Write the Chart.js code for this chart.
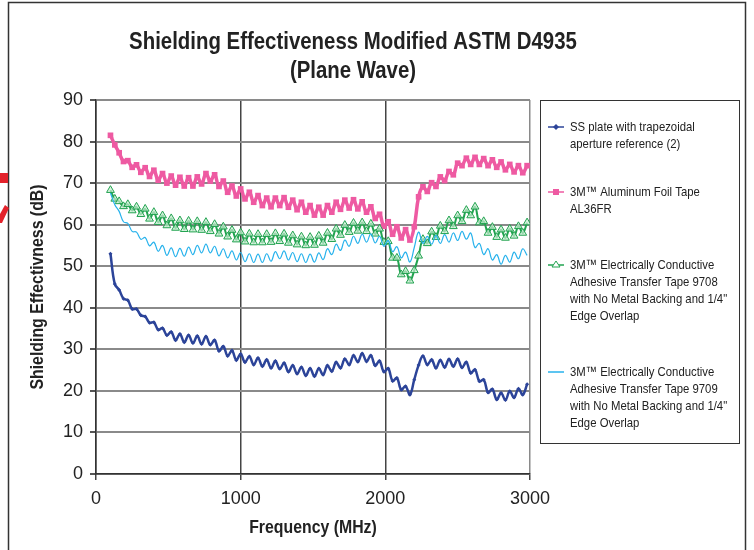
<!DOCTYPE html>
<html>
<head>
<meta charset="utf-8">
<script src="https://cdn.jsdelivr.net/npm/chart.js@4/dist/chart.umd.min.js"></script>
<style>
  body { margin: 0; background: #fff; }
  #wrap { width: 754px; height: 550px; }
</style>
</head>
<body>
<div id="wrap"><canvas id="seChart" width="754" height="550"></canvas></div>
<script>
// Frequencies (MHz)
const freqs = [100,130,160,190,220,250,280,310,340,370,
  400,430,460,490,520,550,580,610,640,670,
  700,730,760,790,820,850,880,910,940,970,
  1000,1030,1060,1090,1120,1150,1180,1210,1240,1270,
  1300,1330,1360,1390,1420,1450,1480,1510,1540,1570,
  1600,1630,1660,1690,1720,1750,1780,1810,1840,1870,
  1900,1930,1960,1990,2020,2050,2080,2110,2140,2170,
  2200,2230,2260,2290,2320,2350,2380,2410,2440,2470,
  2500,2530,2560,2590,2620,2650,2680,2710,2740,2770,
  2800,2830,2860,2890,2920,2950,2980];

// Shielding effectiveness (dB)
const ssPlate = [53,45.7,44.3,42.2,41.8,39.7,39.7,38.2,37.9,36.4,
  36.5,34.7,35.1,33.4,34.2,32.2,33.7,31.7,33.4,31.5,
  33.2,31.3,33.1,31.1,32.2,29.6,30.7,28.4,29.7,27.4,
  28.9,26.9,28.3,26.3,27.9,25.9,27.5,25.5,27.2,25.3,
  26.7,24.6,26.1,24.1,25.7,23.7,25.4,23.5,25.4,23.9,
  26.1,24.7,26.9,25.5,27.7,26.3,28.5,27,29,27.1,
  28.5,26.1,27.2,24.6,25.4,22.4,23.1,20.3,21.1,19.1,
  22.7,26.2,28.4,26.3,27.5,25.5,27.4,25.7,27.6,25.9,
  27.7,25.6,26.9,24.3,25.1,22.3,22.7,19.6,20.4,17.9,
  19.5,17.8,19.9,18.4,20.5,19.1,21.6];

const alFoil = [81.5,79.2,77.3,75.2,75.4,73.8,74.4,72.6,73.7,71.6,
  73.1,70.7,72.3,70,71.7,69.5,71.4,69.3,71.3,69.3,
  71.5,69.8,72.3,70.5,72,69.2,70.5,67.8,69.3,66.9,
  68.6,66.2,67.8,65.4,67,64.6,66.4,64.3,66.4,64.6,
  66.5,64.2,65.9,63.6,65.4,63,64.6,62.3,64.2,62.3,
  64.6,63,65.4,63.7,65.9,64,66,63.8,65.5,63,
  64.3,61.5,62.5,59.6,60.7,57.7,59.5,56.8,58.8,56.3,
  59.5,66.7,69.1,68,70.1,69.2,71.5,70.6,72.8,72,
  74.8,74.2,76,74.5,76.2,74.5,75.9,74.2,75.6,73.8,
  75.1,73.2,74.5,72.7,74.2,72.5,74.2];

const tape9708 = [68.3,66.2,65.6,64.4,64.9,63.4,64.3,62.5,63.8,61.4,
  63,60.6,62.2,59.8,61.5,59.2,61,58.9,60.9,58.8,
  60.8,58.7,60.6,58.4,60.1,57.8,59.5,57.1,58.7,56.4,
  58.1,55.9,57.8,55.7,57.7,55.7,57.7,55.8,57.9,56,
  57.8,55.6,57.4,55.2,57.1,55,57,55.1,57.3,55.6,
  58,56.5,59,57.5,59.9,58.2,60.4,58.5,60.5,58.4,
  60.2,57.8,59,55.8,56,52,52,48,48.8,46.5,
  49,52.5,56.5,55.5,58.3,57,59.7,58.4,61,59.6,
  62.2,60.8,63.5,62.2,64.3,60.5,60.8,58,59.4,57,
  58.8,56.8,59,57.3,59.6,58,60.5];

const tape9709 = [67.6,64.8,63.2,60.7,60.3,58.4,58.2,56.5,56.9,54.9,
  55.8,53.6,55,52.6,54.4,52.3,54.3,52.4,54.6,52.8,
  55,53.2,55.3,53.2,54.8,52.5,54.2,52,53.7,51.5,
  53.3,51.1,53,50.9,52.9,50.9,53,51.2,53.5,51.8,
  53.7,51.5,53.3,51.1,53,50.9,52.9,51,53.2,51.6,
  54.2,52.8,55.3,53.8,56.3,54.8,57.2,55.5,57.7,55.8,
  57.8,55.6,57.2,54.8,56.2,53.5,54.7,52,53.4,51,
  54.5,58.2,55.5,57.2,55.3,57.4,55.5,57.6,55.8,58,
  56.2,58.4,56.5,58,54.5,55.5,52.8,54.2,51.5,52.8,
  50.5,52.6,51,53.4,51.8,54.2,52.6];

const titleLines = ['Shielding Effectiveness Modified ASTM D4935', '(Plane Wave)'];
const xTitle = 'Frequency (MHz)';
const yTitle = 'Shielding Effectivness (dB)';
const legendItems = [
  ['SS plate with trapezoidal', 'aperture reference (2)'],
  ['3M\u2122 Aluminum Foil Tape', 'AL36FR'],
  ['3M\u2122 Electrically Conductive', 'Adhesive Transfer Tape 9708', 'with No Metal Backing and 1/4"', 'Edge Overlap'],
  ['3M\u2122 Electrically Conductive', 'Adhesive Transfer Tape 9709', 'with No Metal Backing and 1/4"', 'Edge Overlap']
];

const FAMILY = '"Liberation Sans", Arial, sans-serif';
const BLUE = '#2c4499';
const PINK = '#ee5aa2';
const GREEN = '#22a350';
const LIGHT = '#27b2ec';

function pts(values) {
  return values.map((v, i) => ({ x: freqs[i], y: v }));
}

// squeezed text, to get the condensed look of the original
function narrowText(c, text, x, y, size, bold, sx, align, rot) {
  c.save();
  c.translate(x, y);
  if (rot) c.rotate(rot);
  c.scale(sx, 1);
  c.font = (bold ? 'bold ' : '') + size + 'px ' + FAMILY;
  c.textAlign = align;
  c.textBaseline = 'middle';
  c.fillText(text, 0, 0);
  c.restore();
}

// frame, titles, legend box and the stray red mark at the left edge
const decor = {
  id: 'decor',
  afterDraw(chart) {
    const c = chart.ctx;
    const area = chart.chartArea;
    c.save();
    c.strokeStyle = '#333';
    c.lineWidth = 1.5;
    c.strokeRect(8.5, 2.5, 737, 600);

    c.fillStyle = '#e3222b';
    c.fillRect(0, 173, 8, 10);
    c.beginPath();
    c.moveTo(5, 205); c.lineTo(9, 208); c.lineTo(2, 223); c.lineTo(0, 223); c.lineTo(0, 214);
    c.closePath();
    c.fill();

    c.fillStyle = '#222';
    narrowText(c, titleLines[0], 353, 42, 24, true, 0.85, 'center');
    narrowText(c, titleLines[1], 353, 71, 24, true, 0.85, 'center');
    narrowText(c, xTitle, (area.left + area.right) / 2, 528, 18, true, 0.88, 'center');
    narrowText(c, yTitle, 38, (area.top + area.bottom) / 2, 18, true, 0.88, 'center', -Math.PI / 2);

    // legend
    c.strokeStyle = '#333';
    c.lineWidth = 1;
    c.strokeRect(540.5, 100.5, 199, 343);
    const tops = [127, 192, 265, 372];
    const colors = [BLUE, PINK, GREEN, LIGHT];
    legendItems.forEach((lines, k) => {
      const y = tops[k];
      c.strokeStyle = colors[k];
      c.lineWidth = 1.5;
      c.beginPath(); c.moveTo(548, y); c.lineTo(564, y); c.stroke();
      c.fillStyle = colors[k];
      if (k === 0) {
        c.beginPath(); c.moveTo(556, y - 3); c.lineTo(559, y); c.lineTo(556, y + 3); c.lineTo(553, y); c.closePath(); c.fill();
      } else if (k === 1) {
        c.fillRect(553, y - 3, 6, 6);
      } else if (k === 2) {
        c.fillStyle = '#fff';
        c.beginPath(); c.moveTo(556, y - 4); c.lineTo(560, y + 2); c.lineTo(552, y + 2); c.closePath(); c.fill();
        c.lineWidth = 1; c.stroke();
      }
      c.fillStyle = '#222';
      lines.forEach((t, j) => narrowText(c, t, 570, y + j * 17, 13.5, false, 0.84, 'left'));
    });
    c.restore();
  }
};

const ctx = document.getElementById('seChart').getContext('2d');
const seChart = new Chart(ctx, {
  type: 'line',
  data: {
    datasets: [
      {
        label: 'SS plate with trapezoidal aperture reference (2)',
        data: pts(ssPlate),
        borderColor: BLUE, backgroundColor: BLUE,
        borderWidth: 2.5, tension: 0.4,
        pointStyle: 'rectRot', pointRadius: 2, pointBorderWidth: 0,
        order: 4
      },
      {
        label: '3M\u2122 Aluminum Foil Tape AL36FR',
        data: pts(alFoil),
        borderColor: PINK, backgroundColor: PINK,
        borderWidth: 3.5, tension: 0.4,
        pointStyle: 'rect', pointRadius: 4, pointBorderWidth: 0,
        order: 3
      },
      {
        label: '3M\u2122 Electrically Conductive Adhesive Transfer Tape 9708',
        data: pts(tape9708),
        borderColor: GREEN, backgroundColor: 'rgba(200,236,210,0.7)',
        borderWidth: 2, tension: 0.4,
        pointStyle: 'triangle', pointRadius: 4.5, pointBorderWidth: 1,
        order: 2
      },
      {
        label: '3M\u2122 Electrically Conductive Adhesive Transfer Tape 9709',
        data: pts(tape9709),
        borderColor: LIGHT, backgroundColor: LIGHT,
        borderWidth: 1.2, tension: 0.4,
        pointRadius: 0,
        order: 1
      }
    ]
  },
  options: {
    responsive: false,
    animation: false,
    layout: { padding: { left: 0, right: 224, top: 100, bottom: 0 } },
    plugins: {
      legend: { display: false },
      title: { display: false },
      tooltip: { enabled: false }
    },
    scales: {
      x: {
        type: 'linear', min: 0, max: 3000,
        afterFit: (s) => { s.height = 76; },
        ticks: { stepSize: 1000, color: '#222', padding: 8, font: { family: FAMILY, size: 18 }, callback: (v) => String(v) },
        grid: {
          color: (c) => (c.tick && c.tick.value === 3000 ? '#8a8a8a' : '#444'),
          lineWidth: 1.5, tickLength: 6, tickColor: '#444'
        },
        border: { color: '#333', width: 1.5 }
      },
      y: {
        min: 0, max: 90,
        afterFit: (s) => { s.width = 96; },
        ticks: { stepSize: 10, color: '#222', padding: 7, font: { family: FAMILY, size: 18 } },
        grid: { color: '#8a8a8a', lineWidth: 2, tickLength: 6, tickColor: '#555' },
        border: { color: '#333', width: 1.5 }
      }
    }
  },
  plugins: [decor]
});
</script>
</body>
</html>
